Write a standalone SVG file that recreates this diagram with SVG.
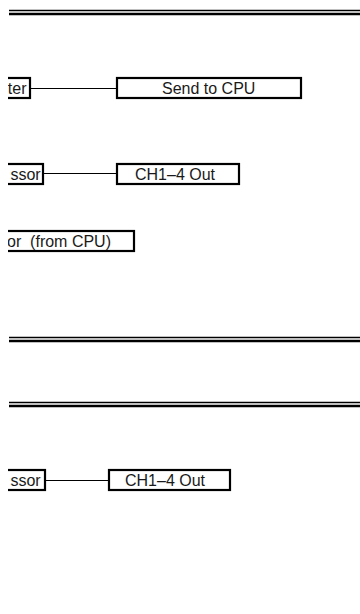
<svg xmlns="http://www.w3.org/2000/svg" width="360" height="614" viewBox="0 0 360 614">
<style>
.box{fill:#fff;stroke:#000;stroke-width:2.2}
.lbl{font-family:"Liberation Sans",Arial,Helvetica,sans-serif;font-size:16px;fill:#1a1a1a}
.conn{stroke:#000;stroke-width:1.1;fill:none}
.thin{stroke:#000;stroke-width:1.5}
.thick{stroke:#000;stroke-width:2.5}
</style>
<defs>
<clipPath id="view"><rect x="8" y="0" width="352" height="614"/></clipPath>
</defs>
<rect width="360" height="614" fill="#fff"/>
<g clip-path="url(#view)">
<g id="rules">
<line class="thin" x1="9" y1="10.5" x2="360" y2="10.5"/>
<line class="thick" x1="9" y1="14" x2="360" y2="14"/>
<line class="thin" x1="9" y1="337.5" x2="360" y2="337.5"/>
<line class="thick" x1="9" y1="341" x2="360" y2="341"/>
<line class="thin" x1="9" y1="402.5" x2="360" y2="402.5"/>
<line class="thick" x1="9" y1="406" x2="360" y2="406"/>
</g>
<g id="connectors">
<line class="conn" x1="31" y1="88.5" x2="116" y2="88.5"/>
<line class="conn" x1="44" y1="173.5" x2="116" y2="173.5"/>
<line class="conn" x1="46" y1="480.5" x2="108" y2="480.5"/>
</g>
<g id="node-ter">
<rect class="box" x="-10" y="78" width="40" height="20"/>
<text class="lbl" x="26.5" y="93.7" text-anchor="end">ter</text>
</g>
<g id="node-send">
<rect class="box" x="117" y="78" width="184" height="20"/>
<text class="lbl" x="162" y="93.7">Send to CPU</text>
</g>
<g id="node-ssor1">
<rect class="box" x="-10" y="164" width="53" height="20"/>
<text class="lbl" x="40.7" y="179.5" text-anchor="end">ssor</text>
</g>
<g id="node-ch1">
<rect class="box" x="117" y="164" width="122" height="20"/>
<text class="lbl" x="135" y="179.5">CH1–4 Out</text>
</g>
<g id="node-fromcpu">
<rect class="box" x="-10" y="231" width="144" height="20"/>
<text class="lbl" x="7" y="246.5" xml:space="preserve">or  (from CPU)</text>
</g>
<g id="node-ssor2">
<rect class="box" x="-10" y="470" width="55" height="20"/>
<text class="lbl" x="40.7" y="485.7" text-anchor="end">ssor</text>
</g>
<g id="node-ch2">
<rect class="box" x="109" y="470" width="121" height="20"/>
<text class="lbl" x="125" y="485.7">CH1–4 Out</text>
</g>
</g>
</svg>
